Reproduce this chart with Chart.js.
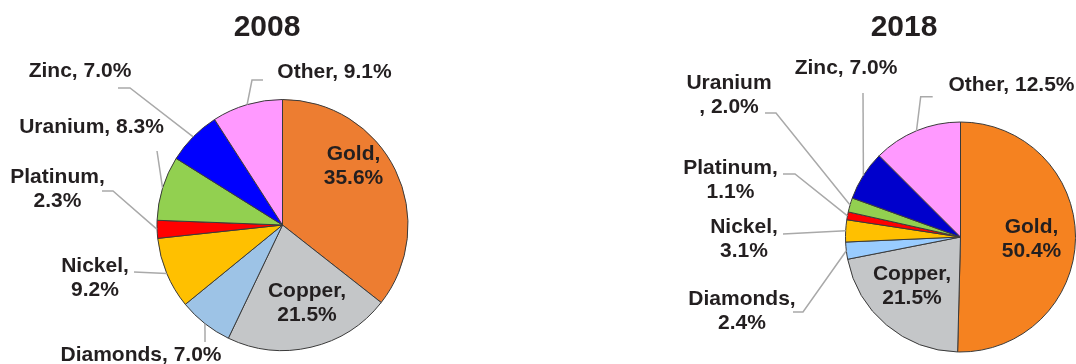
<!DOCTYPE html>
<html>
<head>
<meta charset="utf-8">
<script src="https://cdn.jsdelivr.net/npm/chart.js@4.4.0/dist/chart.umd.min.js"></script>
<style>
  html, body { margin: 0; padding: 0; background: #ffffff; }
  #wrap { position: relative; width: 1076px; height: 364px; overflow: hidden; }
  canvas { position: absolute; left: 0; top: 0; }
</style>
</head>
<body>
<div id="wrap">
  <canvas id="c2008" width="1076" height="364"></canvas>
  <canvas id="c2018" width="1076" height="364"></canvas>
</div>
<script>
// ---- data ----
const categories = ['Gold', 'Copper', 'Diamonds', 'Nickel', 'Platinum', 'Uranium', 'Zinc', 'Other'];
const years = ['2008', '2018'];
const values2008 = [35.6, 21.5, 7.0, 9.2, 2.3, 8.3, 7.0, 9.1];
const values2018 = [50.4, 21.5, 2.4, 3.1, 1.1, 2.0, 7.0, 12.5];

// ---- styles ----
const colors2008 = ['#ED7D31', '#C4C6C8', '#9DC3E6', '#FFC000', '#FF0000', '#92D050', '#0000FF', '#FF99FF'];
const colors2018 = ['#F58220', '#C4C6C8', '#99CCFF', '#FFC000', '#FF0000', '#92D050', '#0000CC', '#FF99FF'];
const TEXT = '#231F20';
const FONT = '"Liberation Sans", Arial, Helvetica, sans-serif';

function fmt(v) { return v.toFixed(1) + '%'; }
// mode: 'one' = "Name, x%", 'two' = "Name," / "x%", 'pre' = "Name" / ", x%"
function labelLines(name, v, mode) {
  if (mode === 'one') return [name + ', ' + fmt(v)];
  if (mode === 'pre') return [name, ', ' + fmt(v)];
  return [name + ',', fmt(v)];
}

// label layout (text centre x, first baseline y, leader path start points)
const layout2008 = [
  { i: 0, mode: 'two', x: 353.5, y: 160 },
  { i: 1, mode: 'two', x: 307, y: 297 },
  { i: 2, mode: 'one', x: 141, y: 361, leader: [[205, 342]] },
  { i: 3, mode: 'two', x: 95, y: 272, leader: [[134, 272]] },
  { i: 4, mode: 'two', x: 57.5, y: 183, leader: [[102, 191], [113, 191]] },
  { i: 5, mode: 'one', x: 91.5, y: 133, leader: [[157, 151]] },
  { i: 6, mode: 'one', x: 80, y: 77, leader: [[118, 88], [130, 88]] },
  { i: 7, mode: 'one', x: 334.5, y: 78, leader: [[263, 80], [252, 80]] }
];
const layout2018 = [
  { i: 0, mode: 'two', x: 1031.5, y: 233 },
  { i: 1, mode: 'two', x: 912, y: 280 },
  { i: 2, mode: 'two', x: 742, y: 305, leader: [[793, 312], [803, 312]] },
  { i: 3, mode: 'two', x: 744, y: 233, leader: [[783, 234]] },
  { i: 4, mode: 'two', x: 730.5, y: 174, leader: [[783, 174], [795, 174]] },
  { i: 5, mode: 'pre', x: 729, y: 89, leader: [[765, 113], [776, 113]] },
  { i: 6, mode: 'one', x: 846, y: 74, leader: [[863, 93]] },
  { i: 7, mode: 'one', x: 1011.5, y: 91, leader: [[932.7, 96.7], [920.7, 96.7]] }
];

const labelPlugin = {
  id: 'sliceLabels',
  afterDatasetsDraw(chart, args, opts) {
    const ctx = chart.ctx;
    const meta = chart.getDatasetMeta(0);
    const values = chart.data.datasets[0].data;
    ctx.save();
    ctx.fillStyle = TEXT;
    ctx.textAlign = 'center';
    ctx.textBaseline = 'alphabetic';
    ctx.font = 'bold 30px ' + FONT;
    ctx.fillText(opts.title, opts.titleX, opts.titleY);

    opts.labels.forEach(l => {
      const arc = meta.data[l.i];
      const p = arc.getProps(['x', 'y', 'startAngle', 'endAngle', 'outerRadius'], true);
      const mid = (p.startAngle + p.endAngle) / 2;
      const ex = p.x + Math.cos(mid) * p.outerRadius;
      const ey = p.y + Math.sin(mid) * p.outerRadius;
      if (l.leader) {
        ctx.beginPath();
        ctx.strokeStyle = '#A9A9A9';
        ctx.lineWidth = 1.5;
        ctx.moveTo(l.leader[0][0], l.leader[0][1]);
        for (let k = 1; k < l.leader.length; k++) ctx.lineTo(l.leader[k][0], l.leader[k][1]);
        ctx.lineTo(ex, ey);
        ctx.stroke();
      }
      ctx.font = 'bold 21px ' + FONT;
      ctx.fillStyle = TEXT;
      const lines = labelLines(categories[l.i], values[l.i], l.mode);
      lines.forEach((t, k) => ctx.fillText(t, l.x, l.y + k * 24));
    });
    ctx.restore();
  }
};

function makePie(id, values, colors, padding, title, titleX, titleY, labels) {
  return new Chart(document.getElementById(id), {
    type: 'pie',
    data: {
      labels: categories,
      datasets: [{
        data: values,
        backgroundColor: colors,
        borderColor: '#3a3a3a',
        borderWidth: 1,
        hoverBorderWidth: 1,
        hoverOffset: 0
      }]
    },
    options: {
      responsive: false,
      animation: false,
      devicePixelRatio: 1,
      layout: { padding: padding },
      events: [],
      plugins: {
        legend: { display: false },
        tooltip: { enabled: false },
        sliceLabels: { title: title, titleX: titleX, titleY: titleY, labels: labels }
      }
    },
    plugins: [labelPlugin]
  });
}

makePie('c2008', values2008, colors2008,
  { left: 156.5, right: 667.5, top: 99, bottom: 13 },
  years[0], 267, 36, layout2008);
makePie('c2018', values2018, colors2018,
  { left: 845, right: 0, top: 121.5, bottom: 11.5 },
  years[1], 904, 36, layout2018);
</script>
</body>
</html>
